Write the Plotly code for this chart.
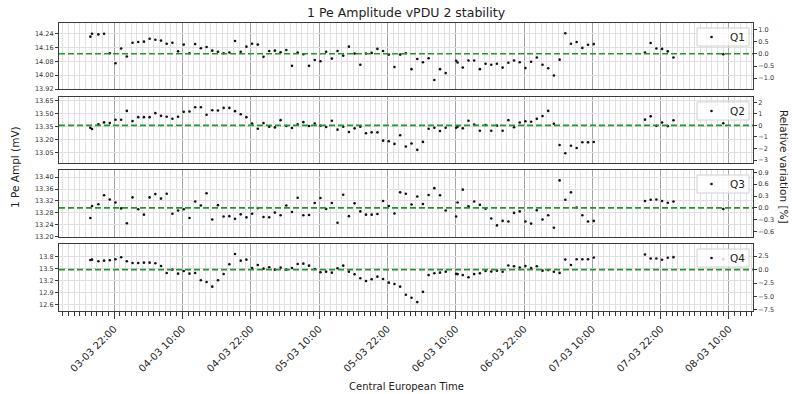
import numpy as np
import plotly.graph_objects as go

# Sampling instants (Central European Time)
sample_times = [
    "2023-03-03 17:50", "2023-03-03 18:08",
    "2023-03-03 19:15", "2023-03-03 20:15", "2023-03-03 21:15", "2023-03-03 22:15", "2023-03-03 23:15",
    "2023-03-04 00:15", "2023-03-04 01:15", "2023-03-04 02:15", "2023-03-04 03:15", "2023-03-04 04:15",
    "2023-03-04 05:15", "2023-03-04 06:15", "2023-03-04 07:15", "2023-03-04 08:15", "2023-03-04 09:15",
    "2023-03-04 10:15", "2023-03-04 11:15", "2023-03-04 12:15", "2023-03-04 13:15", "2023-03-04 14:15",
    "2023-03-04 15:15", "2023-03-04 16:15", "2023-03-04 17:15", "2023-03-04 18:15", "2023-03-04 19:15",
    "2023-03-04 20:15", "2023-03-04 21:15", "2023-03-04 22:15", "2023-03-04 23:15",
    "2023-03-05 00:15", "2023-03-05 01:15", "2023-03-05 02:15", "2023-03-05 03:15", "2023-03-05 04:15",
    "2023-03-05 05:15", "2023-03-05 06:15", "2023-03-05 07:15", "2023-03-05 08:15", "2023-03-05 09:15",
    "2023-03-05 10:15", "2023-03-05 11:15", "2023-03-05 12:15", "2023-03-05 13:15", "2023-03-05 14:15",
    "2023-03-05 15:15", "2023-03-05 16:15", "2023-03-05 17:15", "2023-03-05 18:15", "2023-03-05 19:15",
    "2023-03-05 20:15", "2023-03-05 21:15", "2023-03-05 22:15", "2023-03-05 23:15",
    "2023-03-06 00:15", "2023-03-06 01:15", "2023-03-06 02:15", "2023-03-06 03:15", "2023-03-06 04:15",
    "2023-03-06 05:15", "2023-03-06 06:15", "2023-03-06 07:15", "2023-03-06 08:15",
    "2023-03-06 10:05", "2023-03-06 10:20",
    "2023-03-06 11:15", "2023-03-06 12:15", "2023-03-06 13:15", "2023-03-06 14:15", "2023-03-06 15:15",
    "2023-03-06 16:15", "2023-03-06 17:15", "2023-03-06 18:15", "2023-03-06 19:15", "2023-03-06 20:15",
    "2023-03-06 21:15", "2023-03-06 22:15", "2023-03-06 23:15",
    "2023-03-07 00:15", "2023-03-07 01:15", "2023-03-07 02:15", "2023-03-07 03:15", "2023-03-07 04:15",
    "2023-03-07 05:15", "2023-03-07 06:15", "2023-03-07 07:15", "2023-03-07 08:15", "2023-03-07 09:15",
    "2023-03-07 10:15",
    "2023-03-07 19:15", "2023-03-07 20:15", "2023-03-07 21:15", "2023-03-07 22:15", "2023-03-07 23:15",
    "2023-03-08 00:15",
    "2023-03-08 09:00",
]

# 1 p.e. amplitude per quadrant (mV)
q1_ampl = [
    14.223, 14.240,
    14.236, 14.240, 14.127, 14.069, 14.154,
    14.108, 14.188, 14.192, 14.194, 14.211, 14.205, 14.200, 14.182, 14.188, 14.138,
    14.177, 14.127, 14.180, 14.156, 14.163, 14.142, 14.136, 14.127, 14.131, 14.198,
    14.136, 14.165, 14.182, 14.177,
    14.106, 14.140, 14.142, 14.133, 14.146, 14.054, 14.131, 14.121, 14.054, 14.088,
    14.081, 14.136, 14.096, 14.140, 14.113, 14.165, 14.125, 14.060, 14.125, 14.129,
    14.152, 14.140, 14.119, 14.047,
    14.119, 14.127, 14.035, 14.094, 14.075, 14.098, 13.972, 14.035, 14.012,
    14.083, 14.073,
    14.044, 14.085, 14.085, 14.035, 14.066, 14.060, 14.066, 14.044, 14.072, 14.085,
    14.075, 14.041, 14.078,
    14.102, 14.060, 14.040, 13.998, 14.090, 14.243, 14.182, 14.192, 14.158, 14.176,
    14.180,
    14.131, 14.186, 14.154, 14.152, 14.138,
    14.102,
    14.121,
]

q2_ampl = [
    13.340, 13.325,
    13.379, 13.402, 13.394, 13.432, 13.432,
    13.535, 13.417, 13.463, 13.463, 13.463, 13.509, 13.478, 13.467, 13.444, 13.467,
    13.524, 13.528, 13.577, 13.577, 13.490, 13.543, 13.539, 13.570, 13.570, 13.532,
    13.497, 13.463, 13.390, 13.329,
    13.394, 13.352, 13.344, 13.428, 13.360, 13.337, 13.379, 13.405, 13.360, 13.390,
    13.363, 13.348, 13.421, 13.318, 13.352, 13.291, 13.333, 13.352, 13.276, 13.287,
    13.287, 13.191, 13.184, 13.153,
    13.253, 13.123, 13.157, 13.084, 13.176, 13.329, 13.340, 13.302, 13.340,
    13.340, 13.352,
    13.333, 13.421, 13.377, 13.306, 13.372, 13.306, 13.365, 13.306, 13.428, 13.345,
    13.401, 13.416, 13.409,
    13.443, 13.475, 13.535, 13.386, 13.140, 13.045, 13.131, 13.106, 13.173, 13.171,
    13.175,
    13.434, 13.472, 13.362, 13.400, 13.359,
    13.427,
    13.393,
]

q3_ampl = [
    13.263, 13.303,
    13.309, 13.339, 13.325, 13.315, 13.295,
    13.245, 13.332, 13.292, 13.274, 13.332, 13.343, 13.328, 13.344, 13.277, 13.288,
    13.292, 13.263, 13.318, 13.305, 13.346, 13.258, 13.306, 13.268, 13.269, 13.260,
    13.275, 13.265, 13.277, 13.296,
    13.266, 13.265, 13.281, 13.272, 13.305, 13.283, 13.331, 13.272, 13.273, 13.313,
    13.330, 13.293, 13.313, 13.247, 13.341, 13.269, 13.312, 13.285, 13.274, 13.274,
    13.276, 13.320, 13.303, 13.278,
    13.349, 13.344, 13.308, 13.335, 13.310, 13.340, 13.363, 13.339, 13.288,
    13.268, 13.315,
    13.358, 13.302, 13.318, 13.307, 13.294, 13.261, 13.238, 13.253, 13.251, 13.280,
    13.285, 13.251, 13.244,
    13.289, 13.258, 13.272, 13.230, 13.389, 13.324, 13.349, 13.298, 13.272, 13.251,
    13.253,
    13.320, 13.324, 13.325, 13.320, 13.314,
    13.318,
    13.293,
]

q4_ampl = [
    13.708, 13.717,
    13.675, 13.692, 13.700, 13.725, 13.775,
    13.675, 13.633, 13.633, 13.642, 13.642, 13.625, 13.558, 13.383, 13.467, 13.367,
    13.433, 13.367, 13.383, 13.200, 13.158, 13.042, 13.200, 13.358, 13.600, 13.858,
    13.692, 13.717, 13.508, 13.583,
    13.492, 13.525, 13.467, 13.517, 13.467, 13.508, 13.608, 13.617, 13.567, 13.483,
    13.400, 13.417, 13.392, 13.500, 13.567, 13.417, 13.350, 13.250, 13.183, 13.225,
    13.292, 13.233, 13.142, 13.108,
    13.042, 12.838, 12.764, 12.656, 12.912, 13.330, 13.376, 13.392, 13.417,
    13.360, 13.355,
    13.330, 13.278, 13.355, 13.376, 13.434, 13.418, 13.442, 13.413, 13.570, 13.550,
    13.520, 13.555, 13.504,
    13.553, 13.442, 13.455, 13.413, 13.385, 13.718, 13.582, 13.727, 13.727, 13.727,
    13.768,
    13.845, 13.746, 13.746, 13.713, 13.763,
    13.779,
    13.730,
]

quadrants = ["Q1", "Q2", "Q3", "Q4"]
amplitudes = [q1_ampl, q2_ampl, q3_ampl, q4_ampl]

# Axis settings per panel
ampl_ranges = [(13.920, 14.302), (12.932, 13.696), (13.199, 13.424), (12.433, 14.108)]
ampl_ticks = [
    [13.92, 14.00, 14.08, 14.16, 14.24],
    [13.05, 13.20, 13.35, 13.50, 13.65],
    [13.20, 13.24, 13.28, 13.32, 13.36, 13.40],
    [12.6, 12.9, 13.2, 13.5, 13.8],
]
ampl_formats = [".2f", ".2f", ".2f", ".1f"]
rel_ticks = [
    [-1.0, -0.5, 0.0, 0.5, 1.0],
    [-3, -2, -1, 0, 1, 2],
    [-0.6, -0.3, 0.0, 0.3, 0.6, 0.9],
    [-7.5, -5.0, -2.5, 0.0, 2.5],
]
rel_formats = [".1f", "d", ".1f", ".1f"]

x_range = ["2023-03-03 12:20", "2023-03-08 14:13"]

# Page geometry (pixels)
W, H = 792, 394
L, R, T, B = 59, 753, 23, 311
panel_px = [(23, 89), (97, 163), (170, 237), (244, 311)]
plot_h = B - T
plot_w = R - L

FONT = "DejaVu Sans"
TXT = "#222222"
BORDER = "#3a3a3a"
MAJOR_GRID = "#a4a4a4"
MINOR_GRID = "#e0e0e0"
REF_GREEN = "#24952a"

fig = go.Figure()
layout = dict(
    width=W, height=H,
    margin=dict(l=L, r=W - R, t=T, b=H - B, pad=0),
    paper_bgcolor="white", plot_bgcolor="white",
    font=dict(family=FONT, size=10, color=TXT),
    showlegend=False,
)
shapes = []
annotations = []

# legend box placement inside each panel (pixels from the panel's top / page left)
LEG_X0, LEG_X1 = 697, 749
LEG_TOP, LEG_BOT = 5, 23
LEG_DOT_X, LEG_TXT_X, LEG_MID = 711.5, 728, 14

for i, (name, vals) in enumerate(zip(quadrants, amplitudes)):
    n = i + 1
    xs = "" if n == 1 else str(n)
    xname, yname, rname = f"x{xs}", f"y{xs}", f"y{n + 4}"
    vals = np.asarray(vals)
    ref = float(np.mean(vals))
    rel = (vals / ref - 1.0) * 100.0
    lo, hi = ampl_ranges[i]

    top_px, bot_px = panel_px[i]
    ph = bot_px - top_px
    dom = [(B - bot_px) / plot_h, (B - top_px) / plot_h]

    fig.add_trace(go.Scatter(
        x=sample_times, y=vals, mode="markers", name=name,
        marker=dict(color="#111111", size=2.6), xaxis=xname, yaxis=yname,
    ))
    fig.add_trace(go.Scatter(
        x=sample_times, y=rel, mode="markers", showlegend=False,
        marker=dict(color="black", size=3, opacity=0), hoverinfo="skip",
        xaxis=xname, yaxis=rname,
    ))

    bottom = n == 4
    xa = dict(
        domain=[0, 1], anchor=yname, type="date", range=x_range,
        tick0="2023-03-03 10:00", dtick=12 * 3600 * 1000,
        showgrid=True, gridcolor=MAJOR_GRID, gridwidth=1.3,
        showline=True, mirror=True, linecolor=BORDER, linewidth=1.3,
        zeroline=False,
        ticks="outside" if bottom else "", ticklen=7, tickcolor=BORDER, tickwidth=1.2,
        showticklabels=bottom, tickformat="%d-%m %H:%M", tickangle=-45,
        tickfont=dict(size=10, color=TXT),
        minor=dict(
            tick0="2023-03-03 10:00", dtick=3600 * 1000,
            showgrid=True, gridcolor=MINOR_GRID, gridwidth=1,
            ticks="outside" if bottom else "", ticklen=3.5, tickcolor=BORDER, tickwidth=1,
        ),
    )
    if n != 1:
        xa["matches"] = "x"
    layout["xaxis" + xs] = xa

    layout["yaxis" + xs] = dict(
        domain=dom, anchor=xname, range=[lo, hi],
        tickmode="array", tickvals=ampl_ticks[i], tickformat=ampl_formats[i],
        ticks="outside", ticklen=3, tickcolor=BORDER, tickwidth=1,
        tickfont=dict(size=6.5, color="#333333"),
        showgrid=True, gridcolor=MINOR_GRID, gridwidth=1,
        showline=True, mirror=True, linecolor=BORDER, linewidth=1.3,
        zeroline=False,
    )
    layout[f"yaxis{n + 4}"] = dict(
        overlaying=yname, side="right", anchor=xname,
        range=[(lo / ref - 1.0) * 100.0, (hi / ref - 1.0) * 100.0],
        tickmode="array", tickvals=rel_ticks[i], tickformat=rel_formats[i],
        ticks="outside", ticklen=3, tickcolor=BORDER, tickwidth=1,
        tickfont=dict(size=6.5, color="#333333"),
        showgrid=False, zeroline=False, showline=False,
    )

    # Reference (mean) level of the quadrant
    shapes.append(dict(
        type="line", xref=f"{xname} domain", x0=0, x1=1,
        yref=yname, y0=ref, y1=ref,
        line=dict(color=REF_GREEN, width=1.6, dash="6px,3px"),
        layer="above",
    ))

    # Per-panel legend: framed box, marker and label
    xd, yd = f"{xname} domain", f"{yname} domain"
    fx = lambda px: (px - L) / plot_w
    fy = lambda off: 1 - off / ph
    shapes.append(dict(
        type="rect", xref=xd, yref=yd,
        x0=fx(LEG_X0), x1=fx(LEG_X1), y0=fy(LEG_BOT), y1=fy(LEG_TOP),
        fillcolor="rgba(255,255,255,0.8)", line=dict(color="#d0d0d0", width=1),
        layer="above",
    ))
    r = 1.3
    shapes.append(dict(
        type="circle", xref=xd, yref=yd,
        x0=fx(LEG_DOT_X - r), x1=fx(LEG_DOT_X + r),
        y0=fy(LEG_MID + r), y1=fy(LEG_MID - r),
        fillcolor="#111111", line=dict(width=0), layer="above",
    ))
    annotations.append(dict(
        text=name, xref=xd, yref=yd, x=fx(LEG_TXT_X), y=fy(LEG_MID),
        xanchor="left", yanchor="middle", showarrow=False,
        font=dict(size=10.5, color=TXT),
    ))

layout["shapes"] = shapes
layout["annotations"] = annotations + [
    dict(text="1 Pe Amplitude vPDU 2 stability", xref="paper", yref="paper",
         x=0.5, y=1 + (T - 12) / plot_h, xanchor="center", yanchor="middle",
         showarrow=False, font=dict(size=12.5, color=TXT)),
    dict(text="1 Pe Ampl (mV)", xref="paper", yref="paper",
         x=(15 - L) / plot_w, y=(B - 167) / plot_h, textangle=-90,
         xanchor="center", yanchor="middle", showarrow=False,
         font=dict(size=10.5, color=TXT)),
    dict(text="Relative variation [%]", xref="paper", yref="paper",
         x=(784 - L) / plot_w, y=(B - 167) / plot_h, textangle=90,
         xanchor="center", yanchor="middle", showarrow=False,
         font=dict(size=10.5, color=TXT)),
    dict(text="Central European Time", xref="paper", yref="paper",
         x=0.5, y=-(386 - B) / plot_h, xanchor="center", yanchor="middle",
         showarrow=False, font=dict(size=10, color=TXT)),
]

fig.update_layout(**layout)
fig.write_html("out.html")
